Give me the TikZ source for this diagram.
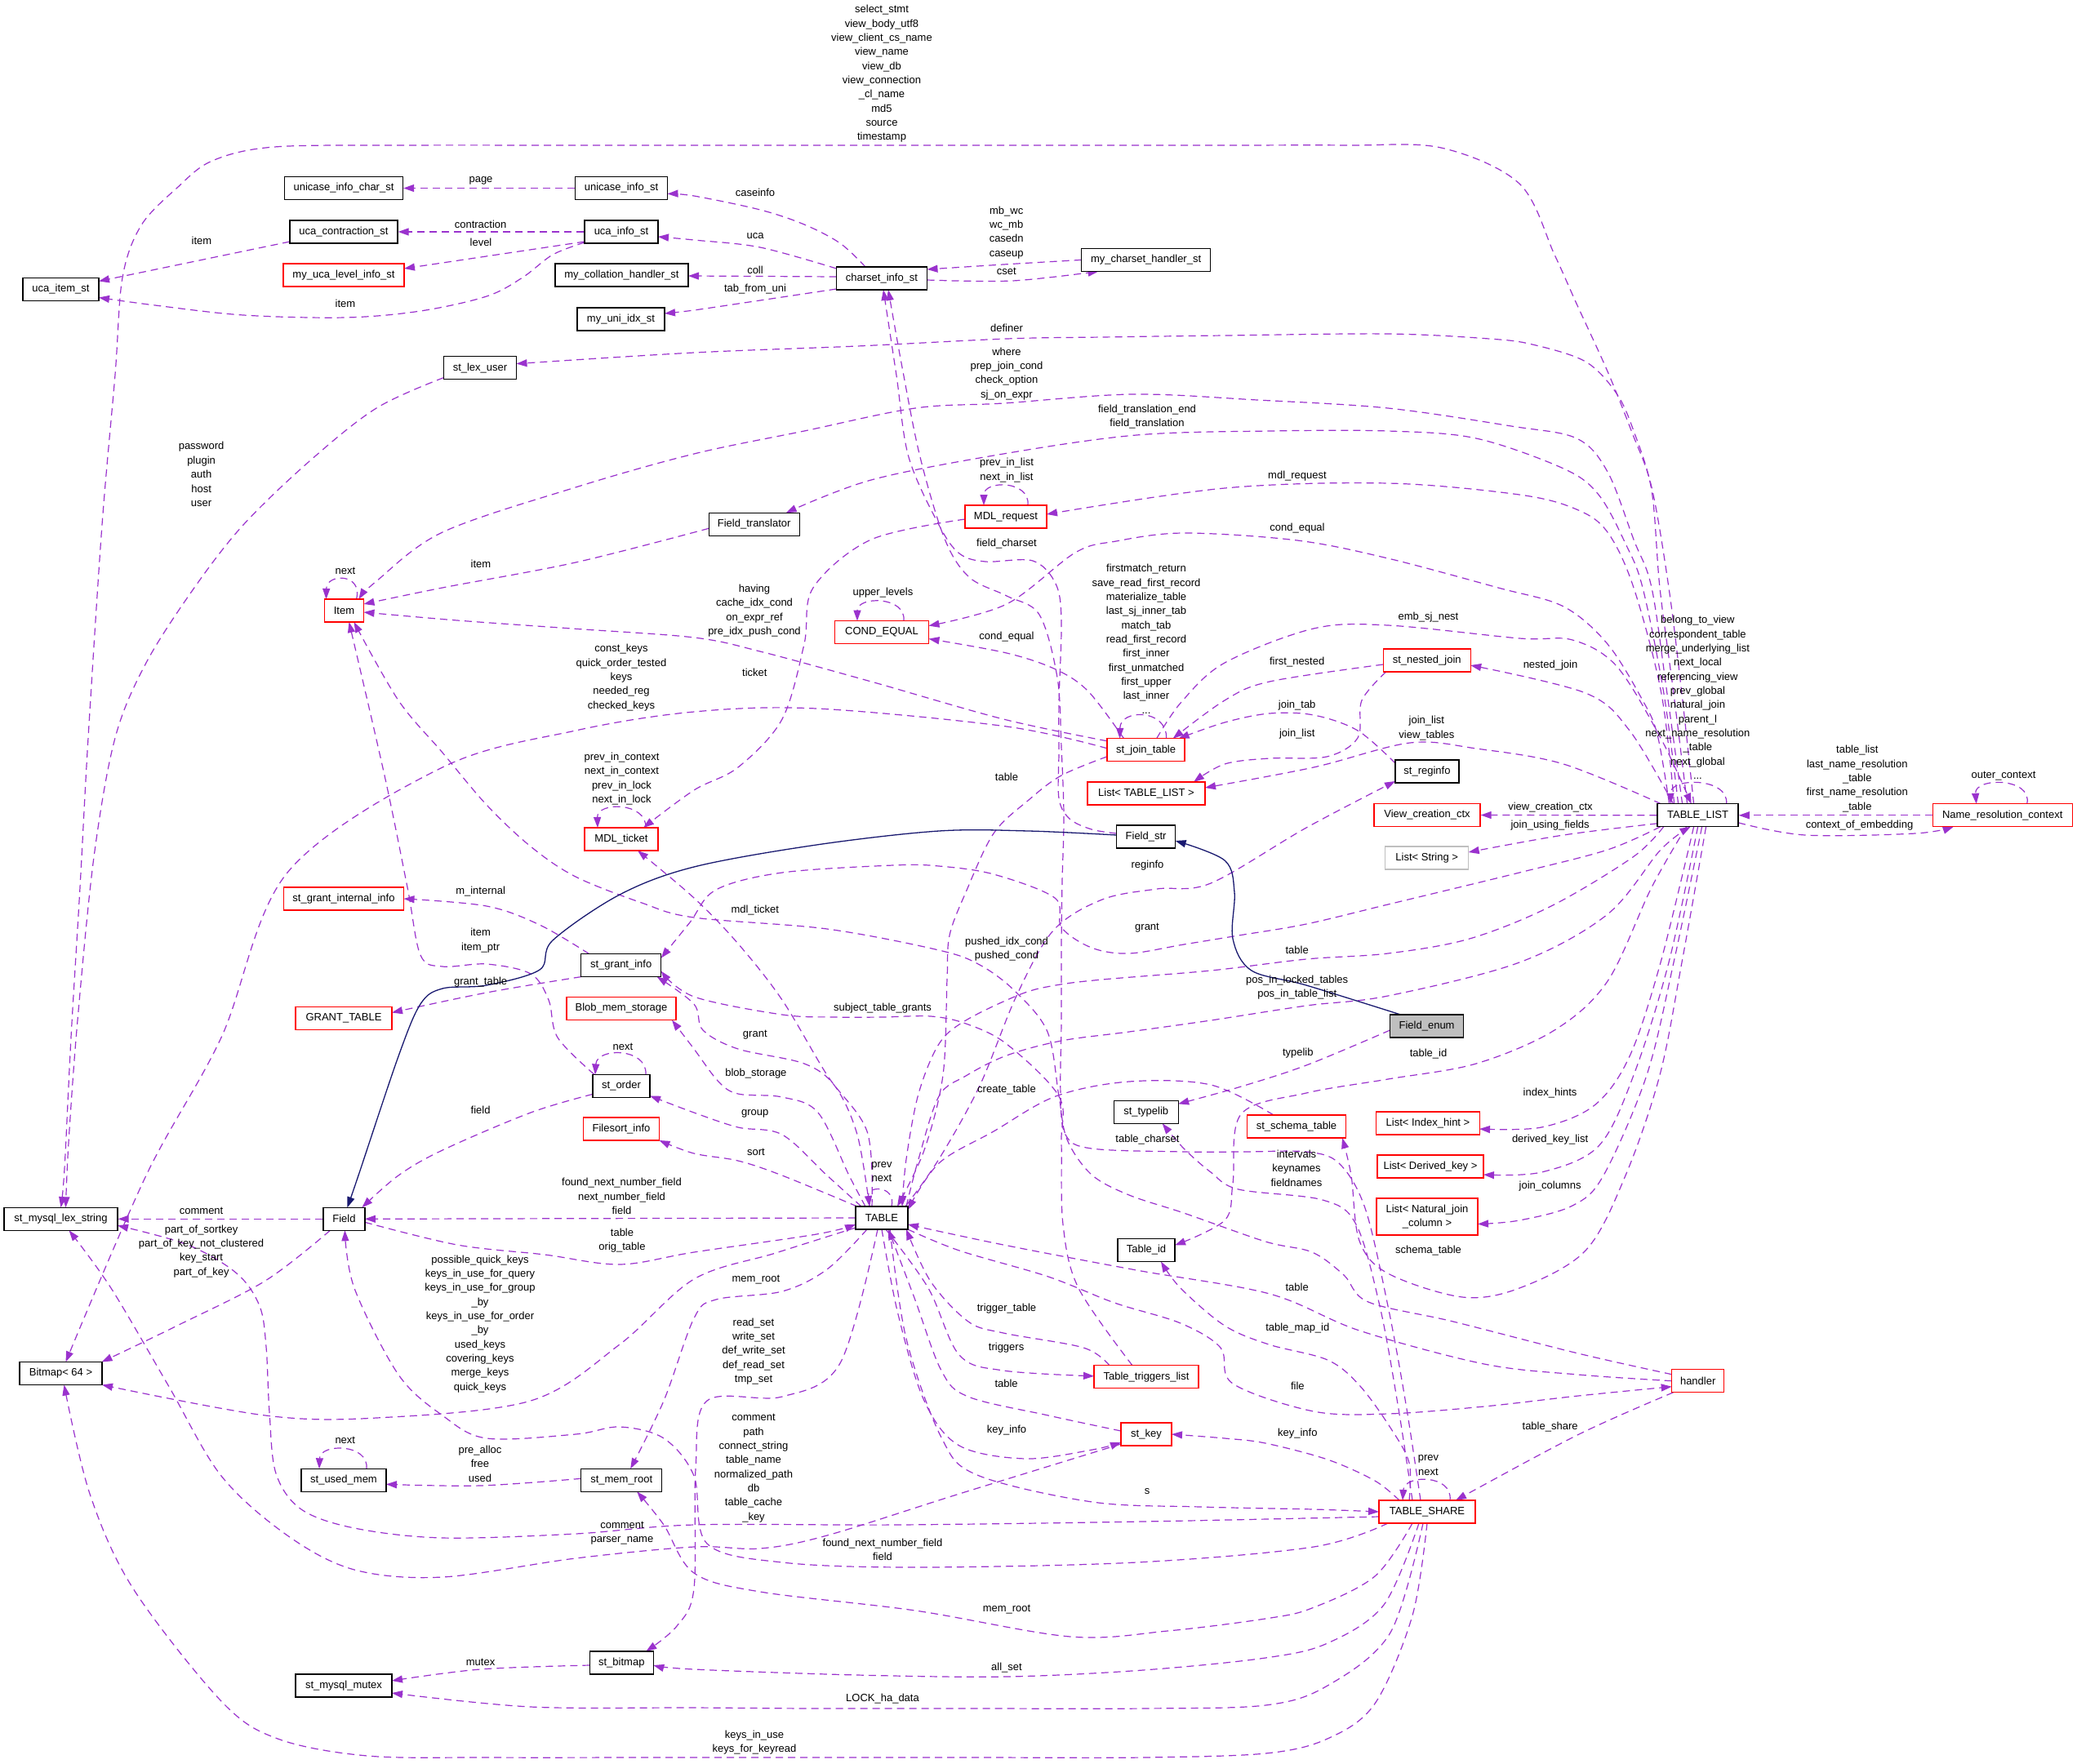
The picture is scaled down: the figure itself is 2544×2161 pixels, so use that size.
\documentclass[tikz,border=0pt]{standalone}
\usepackage{fontspec}
\setmainfont{Liberation Sans}
\usetikzlibrary{arrows.meta,calc}
\pgfdeclarelayer{back}
\pgfdeclarelayer{edges}
\pgfsetlayers{back,edges,main}
\definecolor{edgec}{HTML}{9A32CD}
\definecolor{inhc}{HTML}{191970}
\definecolor{grayb}{HTML}{BFBFBF}
\begin{document}
\begin{tikzpicture}[x=1pt,y=-1pt,
  every node/.style={font=\fontsize{13}{17.35}\selectfont},
  bx/.style={draw=black, line width=1.3pt, fill=white, minimum height=28pt, inner sep=0pt, text=black},
  rbx/.style={bx, draw=red},
  gbx/.style={bx, draw=grayb},
  fbx/.style={bx, fill=grayb},
  lbl/.style={align=center, inner sep=0pt, text=black},
  e/.style={draw=edgec, line width=1.2pt, dash pattern=on 9pt off 6pt, -{Triangle[length=13pt,width=9pt]}},
  ih/.style={draw=inhc, line width=1.3pt, -{Triangle[length=13pt,width=9pt]}},
  sm/.style={smooth, tension=0.55}
]
\begin{pgfonlayer}{back}
\fill[white] (0,0) rectangle (2544,2161);
\end{pgfonlayer}
\useasboundingbox (0,0) rectangle (2544,2161);

% ---------------- nodes ----------------
\node[bx, minimum width=145pt] (ucic) at (421,230.5) {unicase\_info\_char\_st};
\node[bx, minimum width=113pt] (ucis) at (761,230.5) {unicase\_info\_st};
\node[bx, minimum width=132pt] (ucct) at (421,284) {uca\_contraction\_st};
\node[bx, minimum width=90pt] (ucai) at (761,284) {uca\_info\_st};
\node[rbx, minimum width=148pt] (mulv) at (421,337) {my\_uca\_level\_info\_st};
\node[bx, minimum width=163pt] (mcoh) at (761.5,337) {my\_collation\_handler\_st};
\node[bx, minimum width=93pt] (ucit) at (74.5,354.5) {uca\_item\_st};
\node[bx, minimum width=107pt] (muix) at (760.5,391) {my\_uni\_idx\_st};
\node[bx, minimum width=89pt] (slu) at (588,450.6) {st\_lex\_user};
\node[bx, minimum width=111pt] (csi) at (1080,341) {charset\_info\_st};
\node[bx, minimum width=158pt] (mchs) at (1403.6,318.4) {my\_charset\_handler\_st};
\node[bx, minimum width=111pt] (ftr) at (923.7,642.3) {Field\_translator};
\node[rbx, minimum width=100pt] (mdlr) at (1232,633) {MDL\_request};
\node[rbx, minimum width=48pt] (item) at (421.5,748) {Item};
\node[rbx, minimum width=115pt] (ceq) at (1080,774.6) {COND\_EQUAL};
\node[rbx, minimum width=95pt] (sjt) at (1403.6,918.8) {st\_join\_table};
\node[rbx, minimum width=144pt] (ltl) at (1404,972) {List< TABLE\_LIST >};
\node[bx, minimum width=72pt] (fstr) at (1403.6,1025) {Field\_str};
\node[rbx, minimum width=90pt] (mdlt) at (761,1028) {MDL\_ticket};
\node[rbx, minimum width=147pt] (sgii) at (421,1101) {st\_grant\_internal\_info};
\node[bx, minimum width=98pt] (sgi) at (760.7,1182.6) {st\_grant\_info};
\node[rbx, minimum width=118pt] (gtab) at (421,1247.5) {GRANT\_TABLE};
\node[rbx, minimum width=134pt] (bms) at (761,1235.6) {Blob\_mem\_storage};
\node[bx, minimum width=70pt] (sord) at (761,1330.4) {st\_order};
\node[rbx, minimum width=93pt] (fsi) at (761,1383) {Filesort\_info};
\node[bx, minimum width=79pt] (styp) at (1403.7,1362.3) {st\_typelib};
\node[rbx, minimum width=121pt] (ssch) at (1588,1380) {st\_schema\_table};
\node[bx, minimum width=64pt] (tab) at (1080,1492) {TABLE};
\node[bx, minimum width=70pt] (tid) at (1404,1531.5) {Table\_id};
\node[rbx, minimum width=128pt] (ttl) at (1404,1686.8) {Table\_triggers\_list};
\node[rbx, minimum width=62pt] (skey) at (1404,1757) {st\_key};
\node[rbx, minimum width=118pt] (tsh) at (1748,1852) {TABLE\_SHARE};
\node[rbx, minimum width=64pt] (hand) at (2079.7,1691.7) {handler};
\node[rbx, minimum width=107pt] (snj) at (1747.7,809) {st\_nested\_join};
\node[bx, minimum width=78pt] (sreg) at (1748,945) {st\_reginfo};
\node[rbx, minimum width=130pt] (vcc) at (1748,998.5) {View\_creation\_ctx};
\node[bx, minimum width=99pt] (tl) at (2079.6,998.8) {TABLE\_LIST};
\node[rbx, minimum width=171pt] (nrc) at (2452.7,998.8) {Name\_resolution\_context};
\node[gbx, minimum width=102pt] (lstr) at (1747.7,1051) {List< String >};
\node[fbx, minimum width=90pt] (fenum) at (1747.6,1257) {Field\_enum};
\node[rbx, minimum width=127pt] (lih) at (1749,1376) {List< Index\_hint >};
\node[rbx, minimum width=130pt] (ldk) at (1752,1429) {List< Derived\_key >};
\node[rbx, minimum width=124pt, minimum height=45pt, align=center] (lnjc) at (1748,1490.5) {List< Natural\_join\\\_column >};
\node[bx, minimum width=139pt] (smls) at (74.5,1493.3) {st\_mysql\_lex\_string};
\node[bx, minimum width=51pt] (fld) at (421.4,1493.3) {Field};
\node[bx, minimum width=101pt] (bmp) at (74.5,1682.5) {Bitmap< 64 >};
\node[bx, minimum width=104pt] (sum) at (421,1813.3) {st\_used\_mem};
\node[bx, minimum width=99pt] (smr) at (761.2,1813.3) {st\_mem\_root};
\node[bx, minimum width=78pt] (sbm) at (761.3,2037) {st\_bitmap};
\node[bx, minimum width=118pt] (smm) at (421,2065) {st\_mysql\_mutex};

% ---------------- labels ----------------
\node[lbl] (l1) at (589,221) {page};
\node[lbl] (l2) at (588.6,274.6) {contraction};
\node[lbl] (l3) at (589,296.6) {level};
\node[lbl] (l4) at (247,295) {item};
\node[lbl] (l5) at (423,371.4) {item};
\node[lbl] (l6) at (925,235.5) {caseinfo};
\node[lbl] (l7) at (925,289) {uca};
\node[lbl] (l8) at (925,330.6) {coll};
\node[lbl] (l9) at (925,354.5) {tab\_from\_uni};
\node[lbl] (l10) at (1232.7,284.8) {mb\_wc\\wc\_mb\\casedn\\caseup};
\node[lbl] (l11) at (1232.7,332.4) {cset};
\node[lbl] (l12) at (1080,90.5) {select\_stmt\\view\_body\_utf8\\view\_client\_cs\_name\\view\_name\\view\_db\\view\_connection\\\_cl\_name\\md5\\source\\timestamp};
\node[lbl] (l13) at (1233,402) {definer};
\node[lbl] (l14) at (1233,457.8) {where\\prep\_join\_cond\\check\_option\\sj\_on\_expr};
\node[lbl] (l15) at (1405,510.5) {field\_translation\_end\\field\_translation};
\node[lbl] (l16) at (246.6,581) {password\\plugin\\auth\\host\\user};
\node[lbl] (l17) at (1233,576) {prev\_in\_list\\next\_in\_list};
\node[lbl] (l18) at (589,690.5) {item};
\node[lbl] (l19) at (1589,583.6) {mdl\_request};
\node[lbl] (l20) at (1233,666) {field\_charset};
\node[lbl] (l21) at (1589,647.4) {cond\_equal};
\node[lbl] (l22) at (1404,782.8) {firstmatch\_return\\save\_read\_first\_record\\materialize\_table\\last\_sj\_inner\_tab\\match\_tab\\read\_first\_record\\first\_inner\\first\_unmatched\\first\_upper\\last\_inner\\...};
\node[lbl] (l23) at (423,699) {next};
\node[lbl] (l24) at (924,748) {having\\cache\_idx\_cond\\on\_expr\_ref\\pre\_idx\_push\_cond};
\node[lbl] (l25) at (1081.4,726.4) {upper\_levels};
\node[lbl] (l26) at (1233,780.6) {cond\_equal};
\node[lbl] (l27) at (1749.5,756.3) {emb\_sj\_nest};
\node[lbl] (l28) at (1588.7,811.4) {first\_nested};
\node[lbl] (l29) at (1899,815.5) {nested\_join};
\node[lbl] (l30) at (1588.7,863.7) {join\_tab};
\node[lbl] (l31) at (1588.7,899.5) {join\_list};
\node[lbl] (l32) at (1747.4,892) {join\_list\\view\_tables};
\node[lbl] (l33) at (2079.4,854.5) {belong\_to\_view\\correspondent\_table\\merge\_underlying\_list\\next\_local\\referencing\_view\\prev\_global\\natural\_join\\parent\_l\\next\_name\_resolution\\\_table\\next\_global\\...};
\node[lbl] (l34) at (2274.8,954) {table\_list\\last\_name\_resolution\\\_table\\first\_name\_resolution\\\_table};
\node[lbl] (l35) at (2454,950.5) {outer\_context};
\node[lbl] (l36) at (2277.5,1011.6) {context\_of\_embedding};
\node[lbl] (l37) at (1899,988.6) {view\_creation\_ctx};
\node[lbl] (l38) at (1898.6,1011.6) {join\_using\_fields};
\node[lbl] (l39) at (924.3,824.2) {ticket};
\node[lbl] (l40) at (761,830.2) {const\_keys\\quick\_order\_tested\\keys\\needed\_reg\\checked\_keys};
\node[lbl] (l41) at (1233,951.4) {table};
\node[lbl] (l42) at (761.5,954) {prev\_in\_context\\next\_in\_context\\prev\_in\_lock\\next\_in\_lock};
\node[lbl] (l43) at (588.6,1092.4) {m\_internal};
\node[lbl] (l44) at (588.6,1152) {item\\item\_ptr};
\node[lbl] (l45) at (588.6,1203.5) {grant\_table};
\node[lbl] (l46) at (924.8,1115.3) {mdl\_ticket};
\node[lbl] (l47) at (1405.5,1059.8) {reginfo};
\node[lbl] (l48) at (1405,1137) {grant};
\node[lbl] (l49) at (1233,1162.8) {pushed\_idx\_cond\\pushed\_cond};
\node[lbl] (l50) at (1588.7,1163.5) {table};
\node[lbl] (l51) at (1588.7,1209.5) {pos\_in\_locked\_tables\\pos\_in\_table\_list};
\node[lbl] (l52) at (1081,1235) {subject\_table\_grants};
\node[lbl] (l53) at (924.8,1267.7) {grant};
\node[lbl] (l54) at (763,1282.4) {next};
\node[lbl] (l55) at (1589.8,1290.2) {typelib};
\node[lbl] (l56) at (1749.5,1291.2) {table\_id};
\node[lbl] (l57) at (925.9,1315.5) {blob\_storage};
\node[lbl] (l58) at (1233,1335.2) {create\_table};
\node[lbl] (l59) at (1898.6,1339.4) {index\_hints};
\node[lbl] (l60) at (588.6,1360) {field};
\node[lbl] (l61) at (924.8,1364) {group};
\node[lbl] (l62) at (1898.6,1396.3) {derived\_key\_list};
\node[lbl] (l63) at (1405.5,1396.3) {table\_charset};
\node[lbl] (l64) at (925.9,1411.5) {sort};
\node[lbl] (l65) at (1588,1431.2) {intervals\\keynames\\fieldnames};
\node[lbl] (l66) at (1080,1435.4) {prev\\next};
\node[lbl] (l67) at (1898.6,1452.9) {join\_columns};
\node[lbl] (l68) at (761.5,1465.5) {found\_next\_number\_field\\next\_number\_field\\field};
\node[lbl] (l69) at (246.6,1483.7) {comment};
\node[lbl] (l70) at (762,1519.5) {table\\orig\_table};
\node[lbl] (l71) at (246.6,1532.9) {part\_of\_sortkey\\part\_of\_key\_not\_clustered\\key\_start\\part\_of\_key};
\node[lbl] (l72) at (1749.5,1532.4) {schema\_table};
\node[lbl] (l73) at (588,1621.7) {possible\_quick\_keys\\keys\_in\_use\_for\_query\\keys\_in\_use\_for\_group\\\_by\\keys\_in\_use\_for\_order\\\_by\\used\_keys\\covering\_keys\\merge\_keys\\quick\_keys};
\node[lbl] (l74) at (925.9,1567.8) {mem\_root};
\node[lbl] (l75) at (1588.7,1576.4) {table};
\node[lbl] (l76) at (1233,1603) {trigger\_table};
\node[lbl] (l77) at (923,1655.6) {read\_set\\write\_set\\def\_write\_set\\def\_read\_set\\tmp\_set};
\node[lbl] (l78) at (1589.3,1627.3) {table\_map\_id};
\node[lbl] (l79) at (1232.6,1651.2) {triggers};
\node[lbl] (l80) at (1232.6,1694.8) {table};
\node[lbl] (l81) at (1589.3,1697.6) {file};
\node[lbl] (l82) at (923,1798.7) {comment\\path\\connect\_string\\table\_name\\normalized\_path\\db\\table\_cache\\\_key};
\node[lbl] (l83) at (1898.6,1748.5) {table\_share};
\node[lbl] (l84) at (1233,1752) {key\_info};
\node[lbl] (l85) at (1589.3,1756) {key\_info};
\node[lbl] (l86) at (422.8,1764.6) {next};
\node[lbl] (l87) at (588,1793) {pre\_alloc\\free\\used};
\node[lbl] (l88) at (1749.5,1795.2) {prev\\next};
\node[lbl] (l89) at (1405,1827.5) {s};
\node[lbl] (l90) at (762,1877.8) {comment\\parser\_name};
\node[lbl] (l91) at (1081,1898.5) {found\_next\_number\_field\\field};
\node[lbl] (l92) at (1233,1972) {mem\_root};
\node[lbl] (l93) at (588.6,2036) {mutex};
\node[lbl] (l94) at (1233,2042.7) {all\_set};
\node[lbl] (l95) at (1081,2081.5) {LOCK\_ha\_data};
\node[lbl] (l96) at (924,2134.9) {keys\_in\_use\\keys\_for\_keyread};

% ---------------- edges ----------------
\begin{pgfonlayer}{edges}
% charset / uca cluster
\draw[e] (ucis.west) -- (ucic.east);
\draw[e] (ucai.west) -- (ucct.east);
\draw[e] ($(ucai)+(-45,12)$) -- ($(mulv)+(74,-8)$);
\draw[e] ($(ucct)+(-66,12)$) -- ($(ucit)+(46.5,-10)$);
\draw[e] plot[sm] coordinates {($(ucai)+(-45,13)$) (677,312) (640,340) (596,363) (515,381) (423,389) (298,386) (190,374) ($(ucit)+(46.5,10)$)};
\draw[e] plot[sm] coordinates {($(csi)+(-20,-14)$) (1029,298) (985,275) (931,257) (850,240) ($(ucis)+(56.5,7)$)};
\draw[e] plot[sm] coordinates {($(csi)+(-55.5,-12)$) (931,303) (850,294) ($(ucai)+(45,6)$)};
\draw[e] ($(csi)+(-55.5,-2)$) -- ($(mcoh)+(81.5,1)$);
\draw[e] plot[sm] coordinates {($(csi)+(-55.5,13)$) (931,368) (850,380) ($(muix)+(53.5,-7)$)};
\draw[e] plot[sm] coordinates {($(mchs)+(-79,0)$) (1229,324) ($(csi)+(55.5,-11)$)};
\draw[e] plot[sm] coordinates {($(csi)+(55.5,2)$) (1240,344) ($(mchs)+(-58,14)$)};

% TABLE_LIST upward edges
\draw[e] plot[sm] coordinates {($(tl)+(-5,-14)$) (2060,850) (2044,720) (2023,597) (1999,530) (1969,455) (1931,372) (1904,312) (1861,225) (1765,181) (1650,178) (1500,178) (1300,178) (1100,178) (900,178) (700,178) (500,178) (336,180) (260,197) (217,230) (173,276) (150,340) (141,459) (125,643) (108,904) (98,1087) (87,1271) (79,1432) ($(smls)+(0,-14)$)};
\draw[e] plot[sm] coordinates {($(tl)+(-13,-14)$) (2050,850) (2033,720) (2023,601) (2001,528) (1980,482) (1942,443) (1877,422) (1824,415) (1700,409) (1500,411) (1350,413) (1233,415) (1050,424) (850,432) ($(slu)+(44.5,-5)$)};
\draw[e] plot[sm] coordinates {($(tl)+(-19,-14)$) (2042,850) (2023,720) (2001,661) (1969,578) (1931,537) (1851,522) (1700,500) (1540,490) (1387,483) (1229,494) (1121,500) (985,528) (850,556) (705,597) (542,652) (461,712) ($(item)+(18,-14)$)};
\draw[e] plot[sm] coordinates {($(tl)+(-24,-14)$) (2038,850) (2012,720) (1991,666) (1958,606) (1915,574) (1808,537) (1700,528) (1555,528) (1392,533) (1229,556) (1067,588) ($(ftr)+(39,-14)$)};
\draw[e] plot[sm] coordinates {($(tl)+(-29,-14)$) (2035,850) (2001,720) (1969,652) (1931,624) (1861,606) (1700,592) (1500,598) ($(mdlr)+(50,-3)$)};
\draw[e] plot[sm] coordinates {($(tl)+(-35,-14)$) (2030,900) (2012,858) (1969,789) (1915,743) (1835,720) (1700,684) (1589,662) (1450,653) (1367,663) (1317,677) (1233,740) ($(ceq)+(57.5,-8)$)};

% st_join_table cluster
\draw[e] ($(sjt)+(25,-14)$) .. controls (1430,868) and (1372,868) .. ($(sjt)+(-32,-14)$);
\draw[e] plot[sm] coordinates {($(sjt)+(-47.5,-11)$) (1229,881) (1067,835) (931,798) (850,781) (700,770) (560,760) ($(item)+(24,2)$)};
\draw[e] plot[sm] coordinates {($(sjt)+(-27,-14)$) (1333,847) (1293,820) (1233,800) ($(ceq)+(57.5,8)$)};
\draw[e] plot[sm] coordinates {($(sjt)+(-47.5,-2)$) (1233,890) (1000,868) (850,872) (705,895) (542,940) (352,1069) (271,1271) (179,1440) ($(bmp)+(6,-14)$)};
\draw[e] plot[sm] coordinates {($(sjt)+(-47.5,8)$) (1300,950) (1260,980) (1217,1021) (1183,1093) (1163,1146) (1160,1200) (1155,1317) (1132,1409) ($(tab)+(19,-14)$)};
\draw[e] plot[sm] coordinates {($(sjt)+(13,-14)$) (1447,860) (1500,812) (1609,770) (1700,766) (1861,782) (1926,784) (1980,816) (2034,904) ($(tl)+(-8,-14)$)};
\draw[e] plot[sm] coordinates {($(snj)+(-53.5,5)$) (1555,835) (1500,858) ($(sjt)+(33,-14)$)};
\draw[e] plot[sm] coordinates {($(sreg)+(-39,-10)$) (1663,895) (1609,876) (1555,874) (1500,885) ($(sjt)+(40,-14)$)};
\draw[e] plot[sm] coordinates {($(snj)+(-50,14)$) (1668,858) (1663,904) (1625,927) (1555,929) (1500,936) ($(ltl)+(58,-14)$)};
\draw[e] plot[sm] coordinates {($(tl)+(-45,-14)$) (1915,936) (1808,917) (1727,910) (1609,940) ($(ltl)+(72,-7)$)};
\draw[e] plot[sm] coordinates {($(tl)+(-30,-14)$) (1996,895) (1942,849) ($(snj)+(53.5,6)$)};

% TABLE_LIST self and right side
\draw[e] ($(tl)+(35,-14)$) .. controls (2118,952) and (2045,952) .. ($(tl)+(-33,-14)$);
\draw[e] (tl.west) -- (vcc.east);
\draw[e] plot[sm] coordinates {($(tl)+(-49.5,10)$) (1915,1023) ($(lstr)+(51,-7)$)};
\draw[e] (nrc.west) -- (tl.east);
\draw[e] plot[sm] coordinates {($(tl)+(49.5,9)$) (2211,1023) (2346,1021) ($(nrc)+(-60,14)$)};
\draw[e] ($(nrc)+(30,-14)$) .. controls (2490,952) and (2418,952) .. ($(nrc)+(-32,-14)$);

% MDL / COND / Item loops
\draw[e] ($(mdlr)+(27,-14)$) .. controls (1262,588) and (1205,588) .. ($(mdlr)+(-27,-14)$);
\draw[e] ($(ceq)+(27,-14)$) .. controls (1110,730) and (1050,730) .. ($(ceq)+(-30,-14)$);
\draw[e] plot[sm] coordinates {($(mdlr)+(-50,3)$) (1067,661) (996,720) (985,789) (958,881) (904,940) (850,968) ($(mdlt)+(27,-14)$)};
\draw[e] ($(mdlt)+(30,-14)$) .. controls (792,982) and (731,982) .. ($(mdlt)+(-29,-14)$);
\draw[e] plot[sm] coordinates {($(ftr)+(-55.5,5)$) (705,689) (542,720) ($(item)+(24,-8)$)};
\draw[e] ($(item)+(15,-14)$) .. controls (445,702) and (400,702) .. ($(item)+(-22,-14)$);
\draw[e] plot[sm] coordinates {($(sord)+(-33,-14)$) (683,1271) (672,1225) (650,1193) (596,1181) (542,1184) (515,1170) (499,1087) (471,950) ($(item)+(6,14)$)};
\draw[e] plot[sm] coordinates {($(hand)+(-32,-8)$) (1933,1658) (1780,1619) (1676,1595) (1646,1562) (1607,1534) (1550,1521) (1450,1486) (1383,1464) (1337,1439) (1307,1396) (1297,1343) (1283,1264) (1243,1214) (1200,1182) (1150,1164) (1013,1138) (850,1124) (786,1106) (705,1074) (650,1037) (596,986) (542,922) (488,858) ($(item)+(12,14)$)};

% grant info
\draw[e] plot[sm] coordinates {($(sgi)+(-39,-14)$) (661,1133) (596,1110) ($(sgii)+(73.5,0)$)};
\draw[e] plot[sm] coordinates {($(sgi)+(-49,14)$) (596,1216) ($(gtab)+(59,-7)$)};
\draw[e] plot[sm] coordinates {($(tl)+(-46,14)$) (1969,1041) (1861,1069) (1700,1108) (1600,1132) (1517,1146) (1450,1157) (1383,1168) (1337,1161) (1300,1136) (1292,1100) (1217,1071) (1150,1061) (1094,1060) (958,1069) (877,1090) (845,1130) ($(sgi)+(49,-9)$)};
\draw[e] plot[sm] coordinates {($(tl)+(-42,14)$) (2000,1050) (1900,1110) (1800,1150) (1700,1168) (1600,1175) (1483,1189) (1350,1200) (1293,1207) (1250,1218) (1183,1250) (1150,1279) (1125,1340) (1110,1420) ($(tab)+(25,-14)$)};
\draw[e] plot[sm] coordinates {($(tab)+(30,-14)$) (1125,1420) (1150,1343) (1183,1318) (1233,1293) (1300,1275) (1383,1264) (1483,1250) (1600,1232) (1700,1220) (1861,1179) (1969,1120) (2034,1041) ($(tl)+(-9,14)$)};
\draw[e] plot[sm] coordinates {($(tl)+(-14,14)$) (2023,1087) (1969,1202) (1904,1262) (1808,1303) (1700,1322) (1600,1339) (1520,1365) (1510,1450) (1500,1495) ($(tid)+(35,-6)$)};
\draw[e] plot[sm] coordinates {($(tl)+(-5,14)$) (2034,1179) (1996,1294) (1953,1354) (1888,1381) ($(lih)+(63,7)$)};
\draw[e] plot[sm] coordinates {($(tl)+(0,14)$) (2044,1179) (2001,1317) (1958,1404) (1888,1436) ($(ldk)+(65,10)$)};
\draw[e] plot[sm] coordinates {($(tl)+(5,14)$) (2050,1179) (2017,1317) (1964,1440) (1926,1477) (1861,1495) ($(lnjc)+(62,9)$)};
\draw[e] plot[sm] coordinates {($(tl)+(10,14)$) (2060,1179) (2033,1317) (1991,1440) (1942,1532) (1861,1578) (1791,1589) (1700,1560) (1665,1520) (1655,1440) ($(ssch)+(56,14)$)};
\draw[e] plot[sm] coordinates {($(tab)+(29,-14)$) (1150,1420) (1200,1330) (1245,1220) (1290,1140) (1350,1102) (1417,1089) (1483,1082) (1600,1014) ($(sreg)+(-39,12)$)};

% charsets
\draw[e] plot[sm] coordinates {($(fstr)+(-36,-4)$) (1337,1016) (1310,1003) (1297,978) (1297,920) (1297,860) (1300,760) (1293,715) (1265,687) (1207,688) (1175,678) (1150,643) (1113,560) (1098,460) ($(csi)+(2,14)$)};
\draw[e] plot[sm] coordinates {($(tsh)+(-8,-14)$) (1722,1720) (1700,1600) (1672,1480) (1640,1425) (1600,1411) (1525,1411) (1450,1411) (1337,1407) (1305,1390) (1299,1340) (1300,1250) (1300,1160) (1301,1080) (1303,1000) (1300,915) (1295,830) (1273,753) (1233,730) (1187,707) (1157,660) (1127,560) (1105,450) ($(csi)+(8,14)$)};

% TABLE left/top
\draw[e] plot[sm] coordinates {($(ttl)+(-17,-14)$) (1321,1578) (1302,1500) (1300,1400) (1297,1343) (1233,1279) (1183,1254) (1140,1245) (1080,1246) (1023,1246) (958,1243) (850,1221) ($(sgi)+(49,7)$)};
\draw[e] plot[sm] coordinates {($(tab)+(-15,-14)$) (1050,1390) (1023,1331) (985,1303) (904,1285) (861,1262) (850,1230) ($(sgi)+(44,14)$)};
\draw[e] plot[sm] coordinates {($(tab)+(-12,-14)$) (1062,1386) (1013,1317) (958,1225) (904,1156) (850,1100) ($(mdlt)+(20,14)$)};
\draw[e] plot[sm] coordinates {($(tab)+(-20,-14)$) (1040,1440) (1002,1363) (958,1344) (904,1340) (880,1325) (850,1285) ($(bms)+(62,14)$)};
\draw[e] plot[sm] coordinates {($(tab)+(-25,-14)$) (1013,1440) (958,1390) (904,1381) (850,1363) ($(sord)+(35,12)$)};
\draw[e] plot[sm] coordinates {($(tab)+(-30,-14)$) (958,1440) (904,1422) (850,1413) ($(fsi)+(46.5,14)$)};
\draw[e] ($(sord)+(30,-14)$) .. controls (793,1283) and (731,1283) .. ($(sord)+(-32,-14)$);
\draw[e] plot[sm] coordinates {($(sord)+(-35,10)$) (650,1363) (542,1409) (488,1440) ($(fld)+(22,-14)$)};

% inheritance
\draw[ih] plot[sm] coordinates {($(fstr)+(-36,-2)$) (1260,1018) (1150,1018) (1000,1035) (850,1062) (759,1096) (677,1152) (661,1188) (596,1207) (542,1211) (515,1230) (488,1294) (439,1440) ($(fld)+(4,-14)$)};
\draw[ih] plot[sm] coordinates {($(fenum)+(-32,-14)$) (1600,1207) (1533,1189) (1510,1150) (1512,1093) (1500,1054) ($(fstr)+(36,5)$)};

% typelib, schema
\draw[e] plot[sm] coordinates {($(fenum)+(-45,5)$) (1600,1305) (1517,1332) ($(styp)+(39.5,-10)$)};
\draw[e] plot[sm] coordinates {($(ssch)+(-28,-14)$) (1483,1329) (1383,1325) (1293,1343) (1217,1386) (1150,1425) ($(tab)+(32,-10)$)};
\draw[e] plot[sm] coordinates {($(tsh)+(-18,-14)$) (1712,1720) (1690,1600) (1661,1500) (1620,1470) (1517,1457) (1483,1436) (1450,1407) ($(styp)+(20,14)$)};

% TABLE self, Field
\draw[e] ($(tab)+(12,-14)$) .. controls (1098,1452) and (1062,1452) .. ($(tab)+(-15,-14)$);
\draw[e] ($(tab)+(-32,0)$) -- ($(fld)+(25.5,0)$);
\draw[e] plot[sm] coordinates {($(fld)+(25.5,4)$) (560,1525) (667,1537) (759,1549) (850,1534) (1000,1512) ($(tab)+(-32,8)$)};
\draw[e] (fld.west) -- (smls.east);
\draw[e] plot[sm] coordinates {($(fld)+(-17,14)$) (325,1569) (217,1624) ($(bmp)+(50,-14)$)};
\draw[e] plot[sm] coordinates {($(tab)+(-32,12)$) (950,1535) (850,1567) (759,1647) (650,1716) (461,1737) (325,1734) ($(bmp)+(50.5,14)$)};
\draw[e] plot[sm] coordinates {($(tab)+(-18,14)$) (1013,1555) (958,1582) (877,1592) (850,1615) (813,1716) ($(smr)+(11,-14)$)};
\draw[e] plot[sm] coordinates {($(tab)+(-5,14)$) (1029,1670) (958,1711) (866,1716) (852,1800) (850,1946) (829,1992) ($(sbm)+(30,-14)$)};

% handler, triggers, key
\draw[e] plot[sm] coordinates {($(hand)+(-32,0)$) (1933,1684) (1818,1671) (1665,1630) (1555,1585) (1392,1556) (1229,1525) ($(tab)+(32,8)$)};
\draw[e] plot[sm] coordinates {($(ttl)+(-45,-14)$) (1327,1651) (1229,1633) (1186,1619) (1140,1570) ($(tab)+(30,14)$)};
\draw[e] plot[sm] coordinates {($(tab)+(5,14)$) (1137,1578) (1175,1660) (1229,1679) ($(ttl)+(-64,-1)$)};
\draw[e] plot[sm] coordinates {($(skey)+(-31,-4)$) (1284,1734) (1186,1711) (1153,1679) (1120,1590) ($(tab)+(8,14)$)};
\draw[e] plot[sm] coordinates {($(tab)+(0,14)$) (1100,1610) (1132,1716) (1175,1771) (1256,1787) (1338,1776) ($(skey)+(-31,10)$)};
\draw[e] plot[sm] coordinates {($(tab)+(32,14)$) (1175,1532) (1284,1564) (1365,1596) (1446,1621) (1495,1651) (1510,1695) (1609,1729) (1700,1732) (1818,1723) (1933,1710) ($(hand)+(-32,7)$)};
\draw[e] plot[sm] coordinates {($(tab)+(10,14)$) (1110,1640) (1153,1761) (1197,1807) (1338,1840) (1470,1846) (1609,1849) ($(tsh)+(-59,0)$)};

% TABLE_SHARE
\draw[e] plot[sm] coordinates {($(tsh)+(-59,6)$) (1400,1864) (1100,1868) (850,1868) (705,1879) (542,1884) (434,1872) (369,1849) (338,1805) (330,1730) (326,1650) (318,1600) (290,1560) (230,1525) ($(smls)+(69.5,8)$)};
\draw[e] plot[sm] coordinates {($(skey)+(-31,12)$) (1175,1830) (1013,1881) (931,1897) (850,1895) (705,1909) (542,1932) (434,1923) (352,1881) (271,1808) (206,1697) (136,1578) ($(smls)+(10,14)$)};
\draw[e] plot[sm] coordinates {($(tsh)+(-48,14)$) (1609,1895) (1392,1914) (1121,1920) (958,1914) (866,1891) (850,1808) (813,1762) (759,1748) (705,1757) (596,1762) (542,1734) (488,1684) (434,1578) ($(fld)+(1,14)$)};
\draw[e] plot[sm] coordinates {($(tsh)+(-34,-14)$) (1684,1814) (1626,1788) (1550,1768) (1500,1762) ($(skey)+(31,0)$)};
\draw[e] plot[sm] coordinates {($(tsh)+(-22,-14)$) (1726,1792) (1703,1749) (1665,1697) (1626,1666) (1554,1647) (1500,1624) (1446,1578) ($(tid)+(18,14)$)};
\draw[e] plot[sm] coordinates {($(hand)+(-30,14)$) (1932,1758) ($(tsh)+(35,-14)$)};
\draw[e] ($(tsh)+(28,-14)$) .. controls (1780,1806) and (1720,1806) .. ($(tsh)+(-30,-14)$);
\draw[e] plot[sm] coordinates {($(tsh)+(-18,14)$) (1684,1931) (1607,1970) (1550,1983) (1430,1998) (1311,2005) (1121,1973) (931,1950) (850,1927) (813,1868) ($(smr)+(19,14)$)};
\draw[e] plot[sm] coordinates {($(tsh)+(-10,14)$) (1695,1966) (1626,2013) (1550,2031) (1400,2046) (1233,2054) (1050,2052) (850,2045) ($(sbm)+(39,3)$)};
\draw[e] plot[sm] coordinates {($(tsh)+(-5,14)$) (1703,2000) (1626,2065) (1550,2089) (1400,2093) (1200,2093) (1000,2093) (850,2092) (650,2091) ($(smm)+(59,9)$)};
\draw[e] plot[sm] coordinates {($(tsh)+(0,14)$) (1730,1979) (1684,2087) (1626,2130) (1550,2148) (1400,2153) (1200,2153) (1000,2153) (800,2153) (600,2153) (450,2151) (340,2130) (271,2084) (163,1946) (110,1830) ($(bmp)+(4,14)$)};
\draw[e] plot[sm] coordinates {($(sbm)+(-39,3)$) (588,2045) ($(smm)+(59,-6)$)};
\draw[e] plot[sm] coordinates {($(smr)+(-49.5,-2)$) (588,1820) ($(sum)+(52,5)$)};
\draw[e] ($(sum)+(28,-14)$) .. controls (452,1768) and (392,1768) .. ($(sum)+(-30,-14)$);
\draw[e] plot[sm] coordinates {($(slu)+(-44.5,12)$) (461,500) (379,565) (298,643) (238,720) (179,812) (141,904) (115,1050) (95,1250) (84,1400) ($(smls)+(6,-14)$)};
\end{pgfonlayer}
\end{tikzpicture}
\end{document}
